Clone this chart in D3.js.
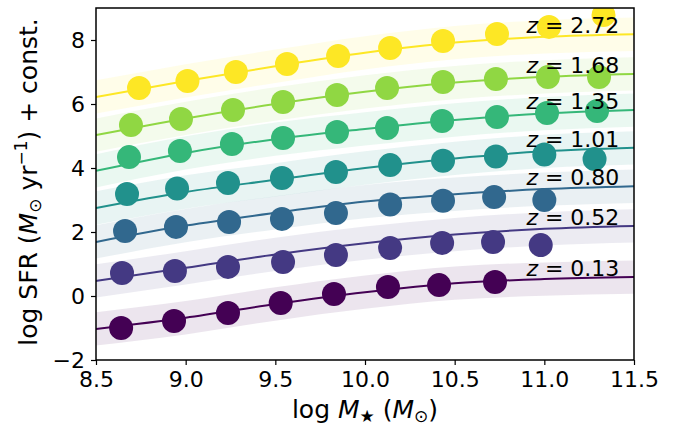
<!DOCTYPE html>
<html>
<head>
<meta charset="utf-8">
<script src="https://cdn.jsdelivr.net/npm/d3@7"></script>
<style>
  body { margin: 0; background: #fff; }
  svg { font-family: "DejaVu Sans", sans-serif; }
</style>
</head>
<body>
<svg id="chart" width="678" height="428"></svg>
<script>
// redshift bins, low to high
const redshifts = ["0.13", "0.52", "0.80", "1.01", "1.35", "1.68", "2.72"];

// binned points: log stellar mass and log SFR (+ offset), one pair per bin
const massZ013 = [8.64, 8.935, 9.236, 9.53, 9.827, 10.128, 10.413, 10.725];
const sfrZ013  = [-1.0, -0.78, -0.53, -0.22, 0.06, 0.28, 0.34, 0.44];
const massZ052 = [8.645, 8.94, 9.236, 9.543, 9.838, 10.14, 10.43, 10.714, 10.98];
const sfrZ052  = [0.72, 0.78, 0.91, 1.06, 1.28, 1.5, 1.66, 1.69, 1.59];
const massZ080 = [8.662, 8.946, 9.242, 9.537, 9.838, 10.14, 10.435, 10.72, 11.0];
const sfrZ080  = [2.03, 2.16, 2.31, 2.41, 2.59, 2.86, 2.98, 3.09, 3.0];
const massZ101 = [8.673, 8.952, 9.236, 9.537, 9.838, 10.14, 10.435, 10.73, 11.0, 11.28];
const sfrZ101  = [3.19, 3.36, 3.53, 3.69, 3.875, 4.09, 4.23, 4.36, 4.42, 4.28];
const massZ135 = [8.684, 8.968, 9.258, 9.543, 9.844, 10.123, 10.43, 10.736, 11.015, 11.294];
const sfrZ135  = [4.34, 4.53, 4.75, 4.94, 5.125, 5.25, 5.47, 5.59, 5.72, 5.78];
const massZ168 = [8.695, 8.974, 9.264, 9.543, 9.844, 10.123, 10.435, 10.73, 11.02, 11.305];
const sfrZ168  = [5.34, 5.53, 5.81, 6.06, 6.28, 6.5, 6.69, 6.78, 6.84, 6.84];
const massZ272 = [8.74, 9.01, 9.28, 9.565, 9.85, 10.14, 10.435, 10.736, 11.026, 11.33];
const sfrZ272  = [6.5, 6.72, 7.0, 7.25, 7.5, 7.75, 7.97, 8.19, 8.41, 8.78];

const fitMass = [8.5, 9.0, 9.5, 10.0, 10.5, 11.0, 11.5];
const fitZ013 = [-1.03, -0.68, -0.25, 0.12, 0.4, 0.53, 0.59];
const fitZ052 = [0.47, 0.88, 1.3, 1.65, 1.92, 2.1, 2.19];
const fitZ080 = [1.69, 2.2, 2.6, 2.95, 3.18, 3.34, 3.43];
const fitZ101 = [2.75, 3.25, 3.63, 4.0, 4.3, 4.52, 4.63];
const fitZ135 = [3.91, 4.47, 4.9, 5.22, 5.5, 5.7, 5.81];
const fitZ168 = [5.03, 5.55, 6.0, 6.38, 6.67, 6.85, 6.94];
const fitZ272 = [6.22, 6.72, 7.18, 7.6, 7.92, 8.1, 8.18];
const scatter = 0.52;  // half-width of shaded band (dex)

const xTicks = [8.5, 9.0, 9.5, 10.0, 10.5, 11.0, 11.5];
const yTicks = [-2, 0, 2, 4, 6, 8];
const labelMass = 10.9;

const masses = [massZ013, massZ052, massZ080, massZ101, massZ135, massZ168, massZ272];
const sfrs = [sfrZ013, sfrZ052, sfrZ080, sfrZ101, sfrZ135, sfrZ168, sfrZ272];
const fits = [fitZ013, fitZ052, fitZ080, fitZ101, fitZ135, fitZ168, fitZ272];

const series = redshifts.map((z, i) => ({
  z: z,
  pts: masses[i].map((m, j) => ({ m: m, s: sfrs[i][j] })),
  fit: fitMass.map((m, j) => ({ m: m, s: fits[i][j] }))
}));

const margin = { top: 8, right: 44, bottom: 68, left: 96 },
      width = 678 - margin.left - margin.right,
      height = 428 - margin.top - margin.bottom;

const svg = d3.select('#chart');
const g = svg.append('g').attr('transform', `translate(${margin.left},${margin.top})`);

const x = d3.scaleLinear().domain([8.5, 11.5]).range([0, width]);
const y = d3.scaleLinear().domain([-2, 9]).range([height, 0]);
const color = i => d3.interpolateViridis(i / (redshifts.length - 1));

g.append('clipPath').attr('id', 'clip')
  .append('rect').attr('width', width).attr('height', height);

const plot = g.append('g').attr('clip-path', 'url(#clip)');

const band = d3.area()
  .x(d => x(d.m))
  .y0(d => y(d.s - scatter))
  .y1(d => y(d.s + scatter))
  .curve(d3.curveMonotoneX);

const line = d3.line()
  .x(d => x(d.m))
  .y(d => y(d.s))
  .curve(d3.curveMonotoneX);

series.forEach((d, i) => {
  plot.append('path')
    .attr('d', band(d.fit))
    .attr('fill', color(i))
    .attr('fill-opacity', 0.1);
});

series.forEach((d, i) => {
  plot.append('path')
    .attr('d', line(d.fit))
    .attr('fill', 'none')
    .attr('stroke', color(i))
    .attr('stroke-width', 2);

  plot.selectAll(null)
    .data(d.pts)
    .enter().append('circle')
    .attr('cx', p => x(p.m))
    .attr('cy', p => y(p.s))
    .attr('r', 12)
    .attr('fill', color(i));
});

// redshift labels sit on the end of each curve
series.forEach(d => {
  const t = g.append('text')
    .attr('x', x(labelMass))
    .attr('y', y(d.fit[d.fit.length - 1].s) - 1)
    .attr('font-size', 22)
    .attr('fill', '#000');
  t.append('tspan').attr('font-style', 'italic').text('z');
  t.append('tspan').text(' = ' + d.z);
});

// axes
const xAxis = g.append('g')
  .attr('transform', `translate(0,${height})`)
  .call(d3.axisBottom(x).tickValues(xTicks).tickFormat(d3.format('.1f')).tickSize(5).tickPadding(6));
const yAxis = g.append('g')
  .call(d3.axisLeft(y).tickValues(yTicks).tickFormat(d => d < 0 ? '\u2212' + Math.abs(d) : d).tickSize(5).tickPadding(6));

[xAxis, yAxis].forEach(a => {
  a.select('.domain').remove();
  a.selectAll('line').attr('stroke', '#000').attr('stroke-width', 1.2);
  a.selectAll('text').attr('font-size', 22).attr('fill', '#000')
    .attr('font-family', '"DejaVu Sans", sans-serif');
});

g.append('rect')
  .attr('width', width).attr('height', height)
  .attr('fill', 'none').attr('stroke', '#000').attr('stroke-width', 1.5);

// axis titles
const xl = svg.append('text')
  .attr('x', margin.left + width / 2).attr('y', 418)
  .attr('text-anchor', 'middle').attr('font-size', 25);
xl.append('tspan').text('log ');
xl.append('tspan').attr('font-style', 'italic').text('M');
xl.append('tspan').attr('font-size', 17).attr('dy', 4).text('\u2605');
xl.append('tspan').attr('dy', -4).text(' (');
xl.append('tspan').attr('font-style', 'italic').text('M');
xl.append('tspan').attr('font-size', 17).attr('dy', 4).text('\u2299');
xl.append('tspan').attr('dy', -4).text(')');

const yl = svg.append('text')
  .attr('transform', `translate(37,${margin.top + height / 2 - 2}) rotate(-90)`)
  .attr('text-anchor', 'middle').attr('font-size', 25);
yl.append('tspan').text('log SFR (');
yl.append('tspan').attr('font-style', 'italic').text('M');
yl.append('tspan').attr('font-size', 17).attr('dy', 4).text('\u2299');
yl.append('tspan').attr('dy', -4).text(' yr');
yl.append('tspan').attr('font-size', 17).attr('dy', -10).text('\u22121');
yl.append('tspan').attr('dy', 10).text(') + const.');
</script>
</body>
</html>
